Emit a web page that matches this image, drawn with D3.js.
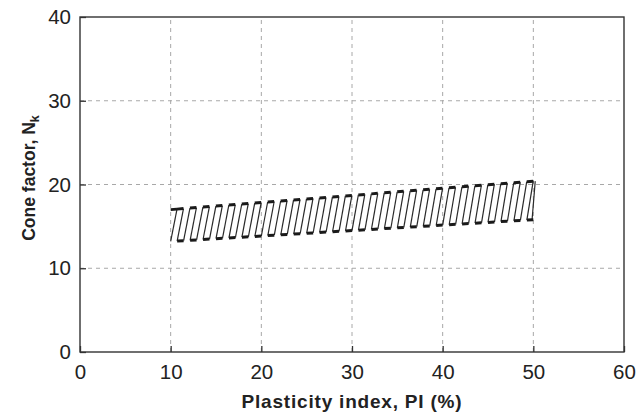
<!DOCTYPE html>
<html>
<head>
<meta charset="utf-8">
<script src="https://cdn.jsdelivr.net/npm/d3@7"></script>
<style>
  html, body { margin: 0; padding: 0; background: #fff; }
  svg { display: block; font-family: "Liberation Sans", Arial, Helvetica, sans-serif; }
</style>
</head>
<body>
<svg id="chart" width="644" height="415"></svg>
<script>
// Axis ticks
const xTicks = [0, 10, 20, 30, 40, 50, 60];
const yTicks = [0, 10, 20, 30, 40];

// Range of cone factor Nk versus plasticity index (band edges)
const bandPI = [10, 50];
const bandUpper = [17.0, 20.4];
const bandLower = [13.2, 15.8];

// Hatching of the band: number of zig-zag periods and slant (PI units)
const hatchPeriods = 28;
const hatchSlant = 0.7;

const svg = d3.select("#chart");
const x = d3.scaleLinear().domain([0, 60]).range([80, 624]);
const y = d3.scaleLinear().domain([0, 40]).range([352, 17]);

const upper = d3.scaleLinear().domain(bandPI).range(bandUpper);
const lower = d3.scaleLinear().domain(bandPI).range(bandLower);

// Grid lines
const grid = svg.append("g").attr("stroke", "#a8a8a8").attr("stroke-width", 1)
  .attr("stroke-dasharray", "4,4");
grid.selectAll("line.vx").data(xTicks.slice(1, -1)).join("line")
  .attr("x1", d => x(d)).attr("x2", d => x(d))
  .attr("y1", y(0)).attr("y2", y(40));
grid.selectAll("line.hy").data(yTicks.slice(1, -1)).join("line")
  .attr("x1", x(0)).attr("x2", x(60))
  .attr("y1", d => y(d)).attr("y2", d => y(d));

// Hatched band as a slanted square wave between the two edges
const P = (bandPI[1] - bandPI[0]) / hatchPeriods;
const thin = [], thick = [];
for (let k = 0; k < hatchPeriods; k++) {
  const u = bandPI[0] + k * P;
  const m = u + P / 2;
  const a = [u, lower(u)];
  const b = [u + hatchSlant, upper(u + hatchSlant)];
  const c = [m + hatchSlant, upper(m + hatchSlant)];
  const d = [m, lower(m)];
  const e = [u + P, lower(u + P)];
  thin.push([a, b], [c, d]);
  thick.push([b, c], [d, e]);
}
// closing edge at the right end
thin.push([[bandPI[1] - hatchSlant * 0.2, lower(bandPI[1])], [bandPI[1] + hatchSlant * 0.3, upper(bandPI[1])]]);
// opening dash at the left top
thick.push([[bandPI[0], upper(bandPI[0])], [bandPI[0] + hatchSlant, upper(bandPI[0] + hatchSlant)]]);

const band = svg.append("g");
band.selectAll("line.thin").data(thin).join("line")
  .attr("x1", s => x(s[0][0])).attr("y1", s => y(s[0][1]))
  .attr("x2", s => x(s[1][0])).attr("y2", s => y(s[1][1]))
  .attr("stroke", "#2a2a2a").attr("stroke-width", 1.2);
band.selectAll("line.thick").data(thick).join("line")
  .attr("x1", s => x(s[0][0])).attr("y1", s => y(s[0][1]))
  .attr("x2", s => x(s[1][0])).attr("y2", s => y(s[1][1]))
  .attr("stroke", "#1a1a1a").attr("stroke-width", 3);

// Axes with inward ticks
const xAxis = svg.append("g").attr("transform", `translate(0,${y(0)})`)
  .call(d3.axisBottom(x).tickValues(xTicks).tickSizeInner(-6).tickSizeOuter(0).tickPadding(12));
const yAxis = svg.append("g").attr("transform", `translate(${x(0)},0)`)
  .call(d3.axisLeft(y).tickValues(yTicks).tickSizeInner(-6).tickSizeOuter(0).tickPadding(9));
[xAxis, yAxis].forEach(g => {
  g.select(".domain").remove();
  g.selectAll(".tick line").attr("stroke", "#333").attr("stroke-width", 1.3);
  g.selectAll(".tick text").attr("font-size", 20.5).attr("fill", "#222")
    .attr("font-family", "'Liberation Sans', Arial, sans-serif");
});

// Plot frame
svg.append("rect")
  .attr("x", x(0)).attr("y", y(40))
  .attr("width", x(60) - x(0)).attr("height", y(0) - y(40))
  .attr("fill", "none").attr("stroke", "#333").attr("stroke-width", 1.4);

// Axis titles
svg.append("text")
  .attr("x", 352).attr("y", 408)
  .attr("text-anchor", "middle").attr("font-size", 19).attr("font-weight", "bold")
  .attr("letter-spacing", 0.8)
  .attr("fill", "#222")
  .text("Plasticity index, PI (%)");

const yt = svg.append("text")
  .attr("transform", `translate(35,178) rotate(-90)`)
  .attr("text-anchor", "middle").attr("font-size", 17.5).attr("font-weight", "bold")
  .attr("fill", "#222");
yt.append("tspan").text("Cone factor, N");
yt.append("tspan").attr("font-size", 12.5).attr("dy", 4).text("k");
</script>
</body>
</html>
